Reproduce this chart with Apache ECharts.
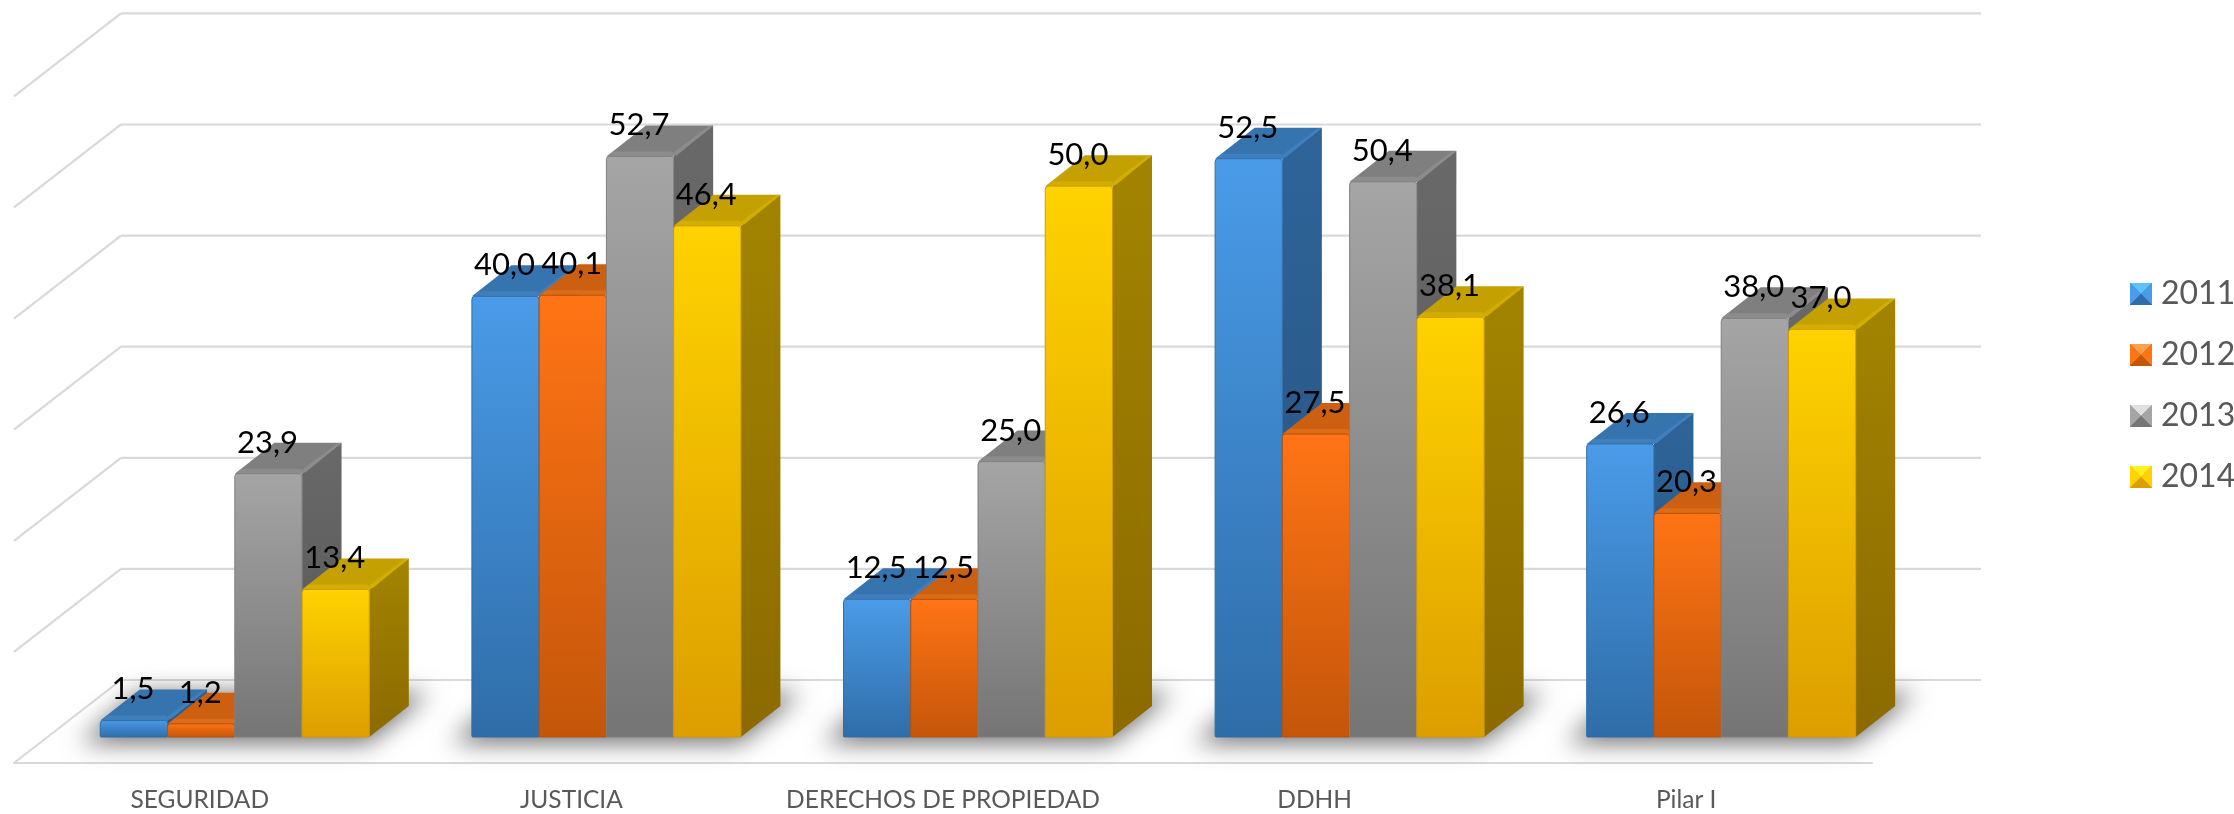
<!DOCTYPE html>
<html>
<head>
<meta charset="utf-8">
<style>html,body{margin:0;padding:0;background:#fff}#c{width:2234px;height:814px}</style>
<script src="https://cdn.jsdelivr.net/npm/echarts@6/dist/echarts.min.js"></script>
</head>
<body>
<div id="c"></div>
<script>
var categories = ['SEGURIDAD', 'JUSTICIA', 'DERECHOS DE PROPIEDAD', 'DDHH', 'Pilar I'];
var years = ['2011', '2012', '2013', '2014'];
var values2011 = [1.5, 40.0, 12.5, 52.5, 26.6];
var values2012 = [1.2, 40.1, 12.5, 27.5, 20.3];
var values2013 = [23.9, 52.7, 25.0, 50.4, 38.0];
var values2014 = [13.4, 46.4, 50.0, 38.1, 37.0];
var wallTicks = [0, 10, 20, 30, 40, 50, 60];

var seriesValues = [values2011, values2012, values2013, values2014];
var palette = [
  {top:'#4A9BE8', bot:'#2F6DA8', face:'#3674B0', bevel:'#417FBC', s1:'#2E6499', s2:'#27527E', edge:'#2F6DA8', lt:'#5FC0FF'},
  {top:'#FF7415', bot:'#C4560A', face:'#CC5F10', bevel:'#DC6C16', s1:'#B0500C', s2:'#8A4008', edge:'#B5500A', lt:'#FFA050'},
  {top:'#A5A5A5', bot:'#757575', face:'#7F7F7F', bevel:'#8C8C8C', s1:'#696969', s2:'#555555', edge:'#808080', lt:'#E0E0E0'},
  {top:'#FFD200', bot:'#DC9E00', face:'#C4A000', bevel:'#D2AE00', s1:'#A38400', s2:'#8C6A00', edge:'#D09A00', lt:'#FFF020'}
];
var BAR_W = 67.25, DX = 39.5, DY = 31, SHIFT = 35;   // bar width, depth offset, front plane shift
var FLOOR_DX = 107, FLOOR_DY = 83, BACK_GAP = 57, WALL_SCALE = 1.0085, WALL_RIGHT = 1981;
var OFF = 3000;

function legendIcon(p) {
  var svg = "<svg xmlns='http://www.w3.org/2000/svg' width='22' height='22'>" +
    "<rect width='22' height='22' fill='" + p.edge + "'/>" +
    "<polygon points='0,0 22,0 11,11' fill='" + p.lt + "'/>" +
    "<polygon points='0,0 11,11 0,22' fill='" + p.top + "'/>" +
    "<polygon points='22,0 11,11 22,22' fill='" + p.top + "'/>" +
    "<polygon points='0,22 11,11 22,22' fill='" + p.bot + "'/></svg>";
  return 'image://data:image/svg+xml;charset=utf-8,' + encodeURIComponent(svg);
}
function vgrad(a, b) {
  return {type:'linear', x:0, y:0, x2:0, y2:1, colorStops:[{offset:0,color:a},{offset:1,color:b}]};
}
function renderBar(sIdx) {
  return function (params, api) {
    var cat = api.value(0), v = api.value(1);
    var top = api.coord([cat, v]), base = api.coord([cat, 0]);
    var p = palette[sIdx];
    var x0 = top[0] + SHIFT - 2 * BAR_W + sIdx * BAR_W, x1 = x0 + BAR_W;
    var yT = top[1], yB = base[1];
    var ch = [];
    ch.push({type:'polygon', shape:{points:[[x1,yT],[x1+DX,yT-DY],[x1+DX,yB-DY],[x1,yB]]},
      style:{fill:vgrad(p.s1,p.s2)}});
    ch.push({type:'polygon', shape:{points:[[x0,yT],[x0+DX,yT-DY],[x1+DX,yT-DY],[x1,yT]]},
      style:{fill:p.face}});
    ch.push({type:'polygon', shape:{points:[[x0+1,yT],[x0+7,yT-5],[x1-2,yT-5],[x1+3,yT-2],[x1,yT]]},
      style:{fill:p.bevel}});
    ch.push({type:'polygon', shape:{points:[[x1+DX-5,yT-DY+1],[x1+DX,yT-DY],[x1+3,yT-1],[x1,yT-4]]},
      style:{fill:p.bevel}});
    ch.push({type:'rect', shape:{x:x0, y:yT, width:BAR_W, height:yB-yT, r:[3,3,1,1]},
      style:{fill:vgrad(p.top,p.bot), stroke:p.edge, lineWidth:1}});
    return {type:'group', children:ch};
  };
}
function renderShadow(params, api) {
  var c = api.coord([api.value(0), 0]);
  var x0 = c[0] + SHIFT - 2 * BAR_W, x1 = x0 + 4 * BAR_W, yB = c[1];
  return {type:'polygon', shape:{points:[[x0-20-OFF,yB+6],[x1-2-OFF,yB+6],[x1+60-OFF,yB-44],[x0+38-OFF,yB-44]]},
    style:{fill:'#000', shadowBlur:24, shadowColor:'#6e6e6e', shadowOffsetX:OFF}};
}
function renderWall(params, api) {
  var v = api.value(0);
  var base = api.coord([0, 0]);
  var front = api.coord([0, v]);
  var y = base[1] - BACK_GAP - (base[1] - front[1]) * WALL_SCALE;
  var gridLeft = base[0] - api.size([1, 0])[0] / 2;
  var bx = gridLeft + FLOOR_DX;
  var ls = {stroke:'#D9D9D9', lineWidth:2.2, fill:null};
  return {type:'group', children:[
    {type:'line', shape:{x1:bx, y1:y, x2:WALL_RIGHT, y2:y}, style:ls},
    {type:'line', shape:{x1:bx, y1:y, x2:gridLeft, y2:y+FLOOR_DY}, style:ls}
  ]};
}
function renderLabel(sIdx) {
  return function (params, api) {
    var cat = api.value(0), v = api.value(1);
    var top = api.coord([cat, v]);
    var x0 = top[0] + SHIFT - 2 * BAR_W + sIdx * BAR_W;
    return {type:'text', x:x0 + BAR_W / 2 - 1, y:top[1] - 31,
      style:{text:v.toFixed(1).replace('.', ','), fill:'#000', font:'31px Lato', textAlign:'center', textVerticalAlign:'middle'}};
  };
}

var series = [];
series.push({type:'custom', name:'wall', data:wallTicks.map(function(t){return [t];}), renderItem:renderWall, z:1, silent:true, encode:{y:0}});
series.push({type:'custom', name:'shadow', data:categories.map(function(c,i){return [i,0];}), renderItem:renderShadow, z:2, silent:true, clip:false, encode:{x:0,y:1}});
years.forEach(function (yr, s) {
  series.push({type:'custom', name:yr, z:3 + s,
    data:seriesValues[s].map(function(v,i){return [i,v];}),
    renderItem:renderBar(s), encode:{x:0,y:1}, itemStyle:{color:palette[s].top}});
});
years.forEach(function (yr, s) {
  series.push({type:'custom', name:'label' + yr, z:10, silent:true,
    data:seriesValues[s].map(function(v,i){return [i,v];}),
    renderItem:renderLabel(s), encode:{x:0,y:1}});
});

var chart = echarts.init(document.getElementById('c'), null, {renderer:'canvas'});
chart.setOption({
  animation:false,
  backgroundColor:'#fff',
  grid:{left:14, width:1858, top:76, bottom:77, containLabel:false},
  xAxis:{type:'category', data:categories, offset:26,
    axisLine:{show:true, onZero:false, lineStyle:{color:'#D9D9D9', width:2.2}}, axisTick:{show:false},
    axisLabel:{color:'#595959', fontFamily:'Lato', fontSize:24.5, margin:25, interval:0},
    splitLine:{show:false}},
  yAxis:{type:'value', min:0, max:60, interval:10, show:false, splitLine:{show:false}},
  legend:{orient:'vertical', left:2125, top:273, itemWidth:22, itemHeight:22, itemGap:29,
    textStyle:{color:'#595959', fontFamily:'Lato', fontSize:32, lineHeight:32, padding:[0,0,0,4]},
    data:years.map(function(y,i){return {name:y, icon:legendIcon(palette[i])};})},
  series:series
});
</script>
</body>
</html>
